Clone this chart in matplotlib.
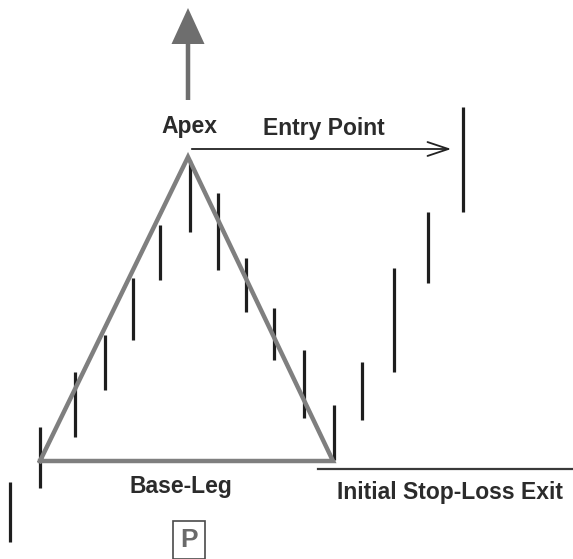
import matplotlib.pyplot as plt
from matplotlib.patches import FancyArrow

# price bars (x position, top, bottom) in picture units, y grows downward
bar_x = [10, 40, 75, 105, 133, 160, 190, 218, 246, 274, 304, 334, 362, 394, 428, 463]
bar_top = [482, 427, 372, 335, 278, 225, 160, 193, 258, 308, 350, 405, 362, 268, 212, 107]
bar_bottom = [542, 488, 437, 390, 340, 280, 232, 270, 312, 360, 418, 460, 420, 372, 283, 212]

# triangle: left base, apex, right base
tri_x = [40, 188, 333, 40]
tri_y = [461, 157, 461, 461]

labels = ["Apex", "Entry Point", "Base-Leg", "Initial Stop-Loss Exit", "P"]

fig = plt.figure(figsize=(5.73, 5.59), dpi=100)
ax = fig.add_axes([0, 0, 1, 1])
ax.set_xlim(0, 573)
ax.set_ylim(559, 0)
ax.axis("off")

ax.vlines(bar_x, bar_top, bar_bottom, color="#1e1e1e", linewidth=2.3)
ax.plot(tri_x, tri_y, color="#7f7f7f", linewidth=3.2, solid_joinstyle="miter")

# stop-loss line
ax.plot([318, 573], [469, 469], color="#3a3a3a", linewidth=1.6)

# entry arrow with open head
ax.annotate("", xy=(454, 149), xytext=(189, 149),
            arrowprops=dict(arrowstyle="->,head_length=1.5,head_width=0.5",
                            color="#222222", lw=1.3))

# upward gray arrow above apex
ax.add_patch(FancyArrow(188, 100, 0, -92, width=4.5, head_width=33,
                        head_length=36, length_includes_head=True,
                        color="#6e6e6e", linewidth=0))

txt = dict(fontfamily="Liberation Sans", fontweight="bold", color="#2b2b2b",
           ha="center", va="center")
ax.text(189, 127, labels[0], fontsize=16.5, **txt)
ax.text(324, 129, labels[1], fontsize=16.5, **txt)
ax.text(181, 486, labels[2], fontsize=16.5, **txt)
ax.text(450, 492, labels[3], fontsize=16.5, **txt)
ax.text(189, 540, labels[4], fontsize=19, fontfamily="Liberation Sans",
        fontweight="bold", color="#6a6a6a", ha="center", va="center",
        bbox=dict(boxstyle="square,pad=0.28", fc="white", ec="#4a4a4a", lw=1.2))

fig.savefig("out.png", dpi=100)
